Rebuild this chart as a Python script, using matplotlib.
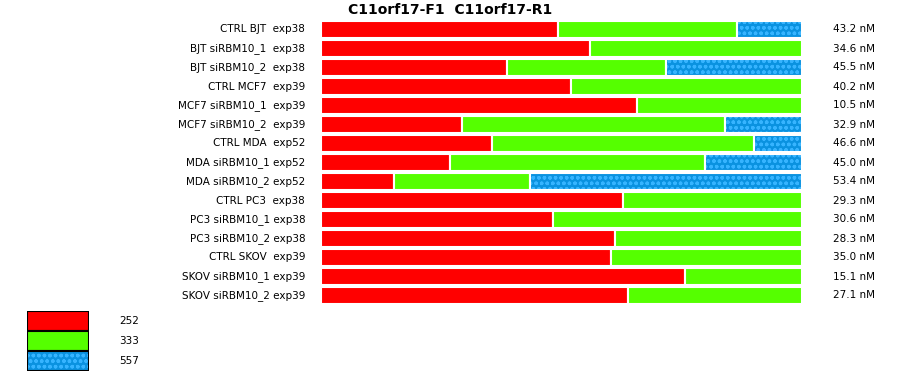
import matplotlib
matplotlib.use("Agg")
import matplotlib.pyplot as plt
import numpy as np

plt.rcParams['font.family'] = ['DejaVu Sans']
plt.rcParams['hatch.linewidth'] = 1.0

# sample labels, top to bottom
samples = [
    "CTRL BJT  exp38", "BJT siRBM10_1  exp38", "BJT siRBM10_2  exp38",
    "CTRL MCF7  exp39", "MCF7 siRBM10_1  exp39", "MCF7 siRBM10_2  exp39",
    "CTRL MDA  exp52", "MDA siRBM10_1 exp52", "MDA siRBM10_2 exp52",
    "CTRL PC3  exp38", "PC3 siRBM10_1 exp38", "PC3 siRBM10_2 exp38",
    "CTRL SKOV  exp39", "SKOV siRBM10_1 exp39", "SKOV siRBM10_2 exp39",
]
concentrations = ["43.2 nM", "34.6 nM", "45.5 nM", "40.2 nM", "10.5 nM",
                  "32.9 nM", "46.6 nM", "45.0 nM", "53.4 nM", "29.3 nM",
                  "30.6 nM", "28.3 nM", "35.0 nM", "15.1 nM", "27.1 nM"]

# percentage of each peak per sample
peak_252 = [49.3, 55.9, 38.7, 52.0, 65.7, 29.3, 35.6, 26.8, 15.2,
            62.8, 48.2, 61.1, 60.3, 75.7, 63.8]
peak_333 = [37.2, 44.1, 33.1, 48.0, 34.3, 54.7, 54.5, 53.0, 28.3,
            37.2, 51.8, 38.9, 39.7, 24.3, 36.2]
peak_557 = [13.5, 0.0, 28.2, 0.0, 0.0, 16.0, 9.9, 20.2, 56.5,
            0.0, 0.0, 0.0, 0.0, 0.0, 0.0]
peak_names = ["252", "333", "557"]

title = "C11orf17-F1  C11orf17-R1"

red = "#ff0000"
green = "#55ff00"
blue = "#0a92e0"
blue_dot = "#36b4ff"

fig = plt.figure(figsize=(9, 3.75), dpi=100)
ax = fig.add_axes([321 / 900, 1 - 305 / 375, 481 / 900, 285 / 375])

y = np.arange(len(samples))
a = np.array(peak_252)
b = np.array(peak_333)
c = np.array(peak_557)

ax.barh(y, a, left=0, height=0.9, color=red, edgecolor="white", linewidth=1.5)
ax.barh(y, b, left=a, height=0.9, color=green, edgecolor="white", linewidth=1.5)
mask = c > 0
ax.barh(y[mask], c[mask], left=(a + b)[mask], height=0.9, color=blue,
        edgecolor=blue_dot, linewidth=0, hatch="ooo")
ax.barh(y[mask], c[mask], left=(a + b)[mask], height=0.9, facecolor="none",
        edgecolor="white", linewidth=1.5)

ax.set_xlim(0, 100)
ax.set_ylim(len(samples) - 0.5, -0.5)
ax.axis("off")

for i, (s, conc) in enumerate(zip(samples, concentrations)):
    ax.text(-3.3, i, s, ha="right", va="center", fontsize=7.5)
    ax.text(106.5, i, conc, ha="left", va="center", fontsize=7.5)

fig.text(450 / 900, 1 - 10 / 375, title, ha="center", va="center",
         fontsize=10, fontweight="semibold")

# legend boxes
lax = fig.add_axes([27 / 900, 1 - 371 / 375, 62 / 900, 60 / 375])
cols = [red, green, blue]
for i, (col, name) in enumerate(zip(cols, peak_names)):
    if i == 2:
        lax.barh(i, 1, height=1, color=col, edgecolor=blue_dot, linewidth=0,
                 hatch="ooo")
    else:
        lax.barh(i, 1, height=1, color=col, linewidth=0)
    lax.barh(i, 1, height=1, facecolor="none", edgecolor="black", linewidth=1.5)
    fig.text(119 / 900, 1 - (321 + 20 * i) / 375, name, ha="left",
             va="center", fontsize=7.5)
lax.set_xlim(0, 1)
lax.set_ylim(2.5, -0.5)
lax.axis("off")

fig.savefig("out.png", dpi=100)
